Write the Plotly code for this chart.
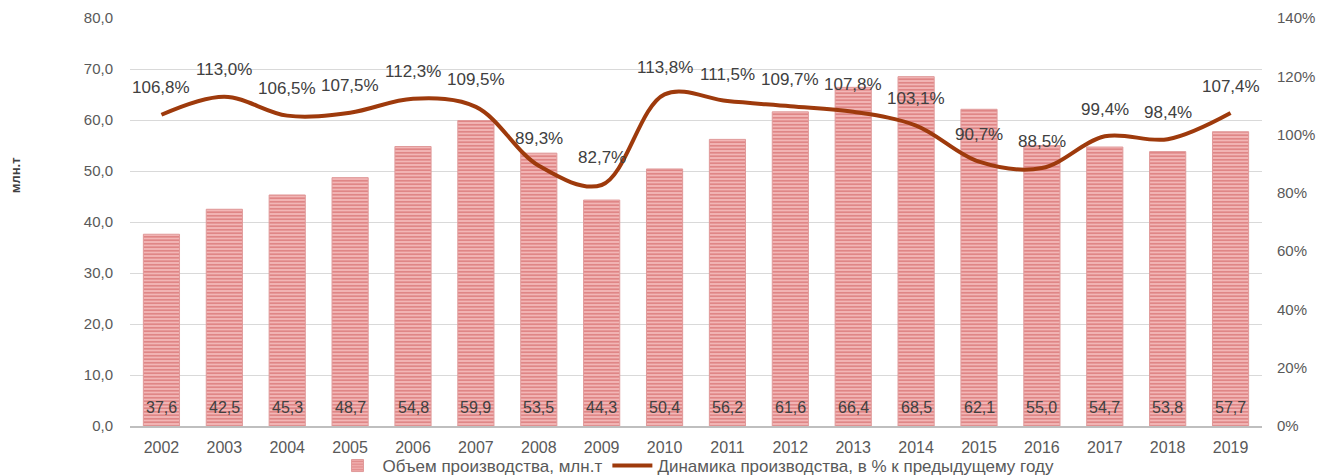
import plotly.graph_objects as go

years = [str(y) for y in range(2002, 2020)]
volume = [37.6, 42.5, 45.3, 48.7, 54.8, 59.9, 53.5, 44.3, 50.4, 56.2, 61.6, 66.4, 68.5, 62.1, 55.0, 54.7, 53.8, 57.7]
dynamics = [106.8, 113.0, 106.5, 107.5, 112.3, 109.5, 89.3, 82.7, 113.8, 111.5, 109.7, 107.8, 103.1, 90.7, 88.5, 99.4, 98.4, 107.4]

bar_name = "Объем производства, млн.т"
line_name = "Динамика производства, в % к предыдущему году"
y_title = "млн.т"

FONT = "Liberation Sans"
TXT = "#404040"
TICK = "#595959"

fig = go.Figure()
fig.add_trace(go.Bar(
    x=years, y=volume, name=bar_name,
    marker=dict(color="#f2b6b6", line=dict(color="#e09a9a", width=1),
                pattern=dict(shape="-", fgcolor="#cc5555", size=3.5, solidity=0.5)),
    hoverinfo="x+y",
))
fig.add_trace(go.Scatter(
    x=years, y=dynamics, name=line_name, yaxis="y2", mode="lines",
    line=dict(color="#9e3a0c", width=4, shape="spline", smoothing=1.0),
))

ann = []
for i, v in enumerate(volume):
    ann.append(dict(x=i, y=0, xref="x", yref="y", text=f"{v:.1f}".replace(".", ","),
                    showarrow=False, yanchor="middle", yshift=19,
                    font=dict(family=FONT, size=16, color=TXT)))
for i, v in enumerate(dynamics):
    ann.append(dict(x=i, y=v, xref="x", yref="y2", text=f"{v:.1f}".replace(".", ",") + "%",
                    showarrow=False, yanchor="middle", yshift=27,
                    font=dict(family=FONT, size=17, color=TXT)))
ann.append(dict(x=-0.1015, y=0.615, xref="paper", yref="paper", text="<b>" + y_title + "</b>",
                showarrow=False, textangle=-90, xanchor="center", yanchor="middle",
                font=dict(family=FONT, size=13, color=TXT)))

fig.update_layout(
    width=1319, height=476,
    margin=dict(l=130, r=57, t=18, b=50, autoexpand=False),
    paper_bgcolor="white", plot_bgcolor="white",
    separators=", ",
    font=dict(family=FONT, size=15, color=TICK),
    bargap=0.425,
    showlegend=True,
    legend=dict(orientation="h", x=0.5, xanchor="center", y=0.021, yanchor="middle",
                yref="container",
                font=dict(family=FONT, size=17, color=TICK), itemwidth=40,
                bgcolor="rgba(0,0,0,0)"),
    xaxis=dict(type="category", range=[-0.5, len(years) - 0.5], autorange=False,
               showgrid=False, showline=True, linecolor="#bfbfbf", linewidth=2,
               ticks="", ticklabelstandoff=6,
               tickfont=dict(family=FONT, size=16, color=TICK)),
    yaxis=dict(range=[0, 80], dtick=10, tickformat=".1f", showgrid=True, gridcolor="#d9d9d9",
               zeroline=False, showline=False, ticks="", ticklabelstandoff=16,
               tickfont=dict(family=FONT, size=15, color=TICK)),
    yaxis2=dict(range=[0, 140], dtick=20, ticksuffix="%", overlaying="y", side="right",
                showgrid=False, zeroline=False, showline=False, ticks="", ticklabelstandoff=14,
                tickfont=dict(family=FONT, size=15, color=TICK)),
    annotations=ann,
)

fig.write_html("out.html", config={"displayModeBar": False},
               post_script="document.body.style.margin='0';document.body.style.overflow='hidden';")
